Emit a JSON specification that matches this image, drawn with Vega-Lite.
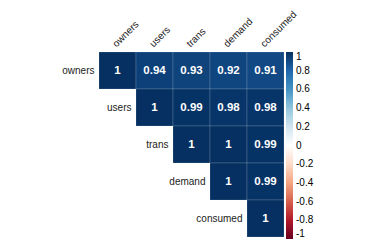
{
  "$schema": "https://vega.github.io/schema/vega-lite/v6.json",
  "autosize": {"type": "none"},
  "padding": {"left": 99, "top": 52, "right": 90, "bottom": 12},
  "width": 185,
  "height": 185,
  "background": "white",
  "config": {"view": {"stroke": null}, "font": "Liberation Sans"},
  "data": {
    "values": [
      {"r": "owners", "c": "owners", "v": 1},
      {"r": "owners", "c": "users", "v": 0.94},
      {"r": "owners", "c": "trans", "v": 0.93},
      {"r": "owners", "c": "demand", "v": 0.92},
      {"r": "owners", "c": "consumed", "v": 0.91},
      {"r": "users", "c": "users", "v": 1},
      {"r": "users", "c": "trans", "v": 0.99},
      {"r": "users", "c": "demand", "v": 0.98},
      {"r": "users", "c": "consumed", "v": 0.98},
      {"r": "trans", "c": "trans", "v": 1},
      {"r": "trans", "c": "demand", "v": 1},
      {"r": "trans", "c": "consumed", "v": 0.99},
      {"r": "demand", "c": "demand", "v": 1},
      {"r": "demand", "c": "consumed", "v": 0.99},
      {"r": "consumed", "c": "consumed", "v": 1}
    ]
  },
  "encoding": {
    "x": {"field": "c", "type": "nominal", "axis": null,
      "scale": {"domain": ["owners", "users", "trans", "demand", "consumed"], "paddingInner": 0, "paddingOuter": 0}},
    "y": {"field": "r", "type": "nominal", "axis": null,
      "scale": {"domain": ["owners", "users", "trans", "demand", "consumed"], "paddingInner": 0, "paddingOuter": 0}}
  },
  "layer": [
    {
      "mark": {"type": "rect", "stroke": "#ffffff", "strokeWidth": 0.6, "strokeOpacity": 0.25},
      "encoding": {
        "color": {
          "field": "v", "type": "quantitative",
          "scale": {
            "type": "linear",
            "interpolate": "rgb",
            "domain": [-1, -0.8, -0.6, -0.4, -0.2, 0, 0.2, 0.4, 0.6, 0.8, 1],
            "range": ["#67001F", "#B2182B", "#D6604D", "#F4A582", "#FDDBC7", "#FFFFFF", "#D1E5F0", "#92C5DE", "#4393C3", "#2166AC", "#053061"]
          },
          "legend": {
            "title": null,
            "orient": "right",
            "offset": 1.5,
            "padding": 0,
            "direction": "vertical",
            "gradientLength": 187,
            "gradientThickness": 7,
            "gradientStrokeWidth": 0,
            "values": [-1, -0.8, -0.6, -0.4, -0.2, 0, 0.2, 0.4, 0.6, 0.8, 1],
            "format": ".1~f",
            "labelExpr": "replace(datum.label, '−', '-')",
            "labelFontSize": 10,
            "labelColor": "#000000",
            "labelOffset": 3,
            "labelBaseline": "middle",
            "labelOverlap": false
          }
        }
      }
    },
    {
      "mark": {"type": "text", "color": "white", "fontWeight": "bold", "fontSize": 11.5, "baseline": "middle"},
      "encoding": {"text": {"field": "v", "type": "quantitative", "format": ".2~f"}}
    },
    {
      "transform": [{"filter": "datum.r === datum.c"}],
      "mark": {"type": "text", "align": "right", "baseline": "middle", "dx": -23, "fontSize": 10, "color": "#222"},
      "encoding": {"text": {"field": "r"}}
    },
    {
      "transform": [{"filter": "datum.r === datum.c"}],
      "mark": {"type": "text", "align": "left", "baseline": "alphabetic", "angle": -45, "dx": 15.4, "dy": -16.8, "fontSize": 10, "color": "#222"},
      "encoding": {"y": {"datum": "owners"}, "text": {"field": "c"}}
    }
  ]
}
